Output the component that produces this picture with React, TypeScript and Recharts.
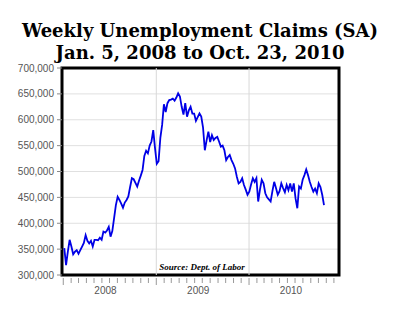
import {
  LineChart, Line, XAxis, YAxis, CartesianGrid,
  ReferenceLine, ReferenceArea,
} from 'recharts';

// weekly initial claims, seasonally adjusted, first week ending Jan 5 2008
const FIRST_WEEK = Date.UTC(2008, 0, 5);
const CLAIMS = [
  352000, 319000, 345000, 368000, 355000, 340000, 345000, 348000, 341000, 348000,
  355000, 362000, 377000, 366000, 361000, 366000, 355000, 368000, 368000, 367000,
  372000, 368000, 384000, 382000, 386000, 393000, 374000, 385000, 410000, 435000,
  451000, 445000, 438000, 430000, 440000, 445000, 452000, 470000, 487000, 485000,
  478000, 471000, 482000, 492000, 503000, 530000, 540000, 535000, 550000, 558000,
  580000, 545000, 515000, 520000, 565000, 590000, 630000, 615000, 632000, 638000,
  639000, 641000, 637000, 643000, 651000, 645000, 625000, 610000, 632000, 606000,
  618000, 625000, 612000, 612000, 598000, 605000, 612000, 606000, 585000, 541000,
  560000, 577000, 557000, 570000, 561000, 565000, 567000, 558000, 548000, 550000,
  541000, 522000, 528000, 532000, 522000, 515000, 506000, 490000, 477000, 480000,
  487000, 474000, 465000, 455000, 461000, 475000, 487000, 480000, 487000, 442000,
  465000, 484000, 477000, 458000, 450000, 446000, 442000, 462000, 480000, 468000,
  455000, 462000, 477000, 468000, 460000, 474000, 464000, 477000, 461000, 477000,
  448000, 429000, 471000, 467000, 484000, 493000, 504000, 493000, 480000, 470000,
  461000, 467000, 458000, 477000, 470000, 455000, 435000,
];

const Y_TICKS = [300000, 350000, 400000, 450000, 500000, 550000, 600000, 650000, 700000];
const YEARS = [2008, 2009, 2010];
const YEAR_LABELS = ['2008', '2009', '2010'];

const DAY = 86400000;
const BASE = Date.UTC(2008, 0, 1);
const toDay = (t: number) => Math.round((t - BASE) / DAY);

const data = CLAIMS.map((v, i) => ({
  day: toDay(FIRST_WEEK) + i * 7,
  claims: v,
}));

const monthTicks: number[] = [];
YEARS.forEach(y => {
  for (let m = 0; m < 12; m++) monthTicks.push(toDay(Date.UTC(y, m, 1)));
});
const yearStarts = YEARS.map(y => toDay(Date.UTC(y, 0, 1)));
const labelDays = YEARS.map(y => toDay(Date.UTC(y, 5, 15)));

const X_DOMAIN = [-5, 1085];

const AxisTick = (props: any) => {
  const { x, y, payload } = props;
  const v = payload.value;
  const li = labelDays.indexOf(v);
  if (li >= 0) {
    return (
      <text x={x} y={y + 19} textAnchor="middle" fill="#555"
        fontSize={10} fontFamily="'Liberation Sans', Arial, sans-serif">
        {YEAR_LABELS[li]}
      </text>
    );
  }
  const major = yearStarts.includes(v);
  return <line x1={x} x2={x} y1={y + 3} y2={y + (major ? 10 : 8)} stroke="#999" strokeWidth={1} />;
};

export default function App() {
  return (
    <div style={{ position: 'absolute', left: 0, top: 0, width: 400, height: 313, background: '#fff' }}>
      <div style={{
        position: 'absolute', left: 0, top: 20, width: 400, textAlign: 'center',
        fontFamily: "'DejaVu Serif', serif", fontWeight: 'bold', fontSize: 18, lineHeight: '22px', color: '#000',
      }}>
        <div>Weekly Unemployment Claims (SA)</div>
        <div>Jan. 5, 2008 to Oct. 23, 2010</div>
      </div>
      <LineChart width={400} height={313} data={data}
        margin={{ top: 68, right: 61, bottom: 8, left: 0 }}>
        <CartesianGrid vertical={false} stroke="#e0e0e0" />
        <XAxis
          dataKey="day"
          type="number"
          domain={X_DOMAIN}
          ticks={[...monthTicks, ...labelDays]}
          interval={0}
          tick={<AxisTick />}
          tickLine={false}
          axisLine={false}
          tickSize={0}
          tickMargin={0}
          height={30}
          allowDataOverflow
        />
        <YAxis
          domain={[300000, 700000]}
          ticks={Y_TICKS}
          width={62}
          axisLine={false}
          tickSize={5}
          tickMargin={3}
          tickLine={{ stroke: '#888' }}
          tick={{ fill: '#555', fontSize: 10, fontFamily: "'Liberation Sans', Arial, sans-serif" }}
          tickFormatter={(v: number) => v.toLocaleString('en-US')}
          allowDataOverflow
        />
        {yearStarts.slice(1).map(d => (
          <ReferenceLine key={d} x={d} stroke="#d8d8d8" strokeWidth={1} />
        ))}
        <Line
          type="linear"
          dataKey="claims"
          stroke="#0000e6"
          strokeWidth={1.8}
          dot={false}
          isAnimationActive={false}
        />
        <ReferenceArea x1={X_DOMAIN[0]} x2={X_DOMAIN[1]} y1={300000} y2={700000}
          fill="none" stroke="#000" strokeWidth={3} />
      </LineChart>
      <div style={{
        position: 'absolute', left: 62, width: 280, top: 262, textAlign: 'center',
        fontFamily: "'Liberation Serif', serif", fontWeight: 'bold', fontStyle: 'italic', fontSize: 9,
      }}>
        Source: Dept. of Labor
      </div>
    </div>
  );
}
